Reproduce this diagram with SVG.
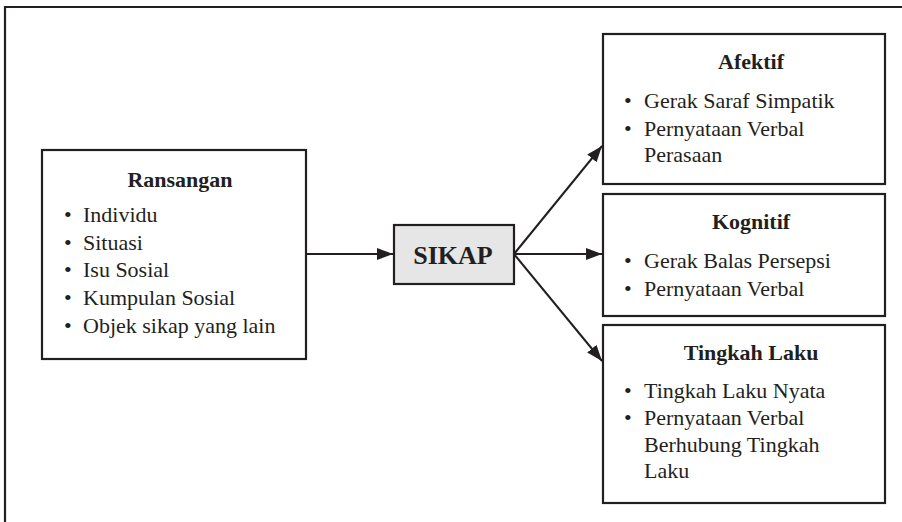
<svg xmlns="http://www.w3.org/2000/svg" width="902" height="522" viewBox="0 0 902 522">
<style>
.box{fill:#fff;stroke:#231f20;stroke-width:2.2}
.t{font-family:"Liberation Serif","Times New Roman",serif;fill:#231f20}
.h{font-size:22px;font-weight:bold;text-anchor:middle}
.i{font-size:22px}
.c{stroke:#231f20;stroke-width:2;fill:none}
</style>
<defs>
<marker id="ah2" viewBox="0 0 16 12" refX="16" refY="6" markerWidth="16" markerHeight="12" markerUnits="userSpaceOnUse" orient="auto">
<path d="M0,0 L16,6 L0,12 Z" fill="#231f20"/>
</marker>
</defs>
<path d="M5,522 V7 H902" fill="none" stroke="#231f20" stroke-width="2.2"/>
<g id="connectors">
<line class="c" x1="306" y1="254" x2="393" y2="254" marker-end="url(#ah2)"/>
<line class="c" x1="514" y1="254" x2="602" y2="146" marker-end="url(#ah2)"/>
<line class="c" x1="514" y1="254" x2="602" y2="254" marker-end="url(#ah2)"/>
<line class="c" x1="514" y1="254" x2="602" y2="361" marker-end="url(#ah2)"/>
</g>
<g id="ransangan">
<rect class="box" x="42" y="150" width="264" height="209"/>
<text class="t h" x="180" y="187">Ransangan</text>
<text class="t i"><tspan x="64" y="222">•</tspan><tspan x="83" y="222">Individu</tspan></text>
<text class="t i"><tspan x="64" y="250">•</tspan><tspan x="83" y="250">Situasi</tspan></text>
<text class="t i"><tspan x="64" y="277">•</tspan><tspan x="83" y="277">Isu Sosial</tspan></text>
<text class="t i"><tspan x="64" y="305">•</tspan><tspan x="83" y="305">Kumpulan Sosial</tspan></text>
<text class="t i"><tspan x="64" y="333">•</tspan><tspan x="83" y="333">Objek sikap yang lain</tspan></text>
</g>
<g id="sikap">
<rect x="394" y="225" width="120" height="59" fill="#e6e6e7" stroke="#231f20" stroke-width="2.2"/>
<text class="t" x="453" y="264" font-size="26" font-weight="bold" text-anchor="middle">SIKAP</text>
</g>
<g id="afektif">
<rect class="box" x="603" y="34" width="282" height="150"/>
<text class="t h" x="751" y="69">Afektif</text>
<text class="t i"><tspan x="624" y="108">•</tspan><tspan x="644" y="108">Gerak Saraf Simpatik</tspan></text>
<text class="t i"><tspan x="624" y="136">•</tspan><tspan x="644" y="136">Pernyataan Verbal</tspan></text>
<text class="t i"><tspan x="644" y="162">Perasaan</tspan></text>
</g>
<g id="kognitif">
<rect class="box" x="603" y="194" width="282" height="122"/>
<text class="t h" x="751" y="229">Kognitif</text>
<text class="t i"><tspan x="624" y="268">•</tspan><tspan x="644" y="268">Gerak Balas Persepsi</tspan></text>
<text class="t i"><tspan x="624" y="296">•</tspan><tspan x="644" y="296">Pernyataan Verbal</tspan></text>
</g>
<g id="tingkahlaku">
<rect class="box" x="603" y="325" width="282" height="178"/>
<text class="t h" x="751" y="360">Tingkah Laku</text>
<text class="t i"><tspan x="624" y="398">•</tspan><tspan x="644" y="398">Tingkah Laku Nyata</tspan></text>
<text class="t i"><tspan x="624" y="425">•</tspan><tspan x="644" y="425">Pernyataan Verbal</tspan></text>
<text class="t i"><tspan x="644" y="452">Berhubung Tingkah</tspan></text>
<text class="t i"><tspan x="644" y="478">Laku</tspan></text>
</g>
</svg>
